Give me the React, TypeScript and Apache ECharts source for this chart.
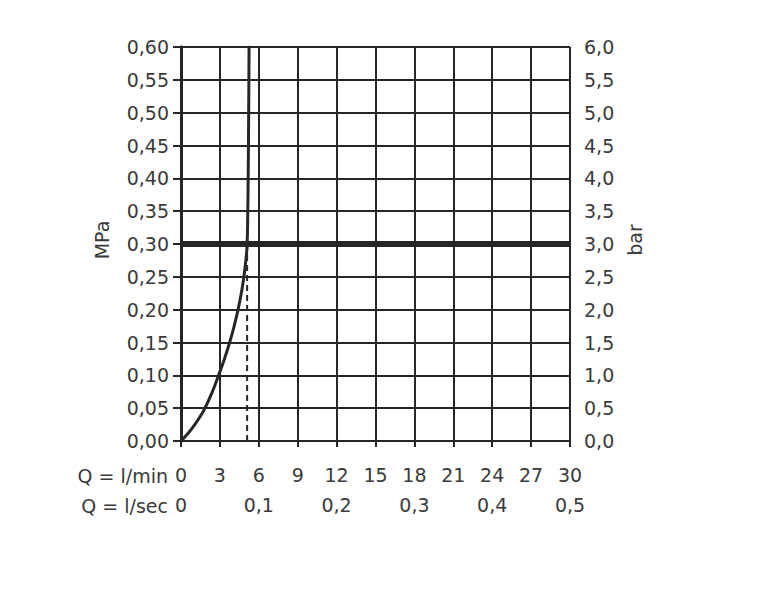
import React, { useEffect, useRef } from "react";
import * as echarts from "echarts";

const flowLpmTicks = { min: 0, max: 30, interval: 3 };
const flowLpsTicks = { min: 0, max: 30, interval: 6 };
const curveFlow = [0, 0.6, 1.1, 1.5, 1.85, 2.42, 2.9, 3.35, 3.75, 4.1, 4.4, 4.65, 4.85, 5.0, 5.1, 5.15, 5.18, 5.22, 5.25];
const curvePressure = [0, 0.013, 0.026, 0.038, 0.05, 0.075, 0.1, 0.125, 0.15, 0.175, 0.2, 0.225, 0.25, 0.275, 0.3, 0.35, 0.4, 0.5, 0.6];
const operatingFlow = 5.1;
const operatingPressure = 0.3;

const FONT = "DejaVu Sans";
const TXT = "#3a3a3a";
const LINE = "#262626";

export default function App() {
  const ref = useRef<HTMLDivElement>(null);
  useEffect(() => {
    document.body.style.margin = "0";
    const chart = echarts.init(ref.current!, null, { renderer: "svg" });
    const labelStyle = { color: TXT, fontFamily: FONT, fontSize: 19 };
    chart.setOption({
      animation: false,
      backgroundColor: "#ffffff",
      grid: { left: 181, right: 193, top: 47, bottom: 159 },
      xAxis: [
        {
          type: "value",
          min: flowLpmTicks.min,
          max: flowLpmTicks.max,
          interval: flowLpmTicks.interval,
          axisLine: { show: true, lineStyle: { color: LINE, width: 2 } },
          axisTick: { show: true, inside: false, length: 6, lineStyle: { color: LINE, width: 2 } },
          axisLabel: { ...labelStyle, margin: 24, formatter: (v: number) => String(Math.round(v)) },
          splitLine: { show: true, lineStyle: { color: LINE, width: 2 } },
        },
        {
          type: "value",
          position: "bottom",
          offset: 30,
          min: flowLpsTicks.min,
          max: flowLpsTicks.max,
          interval: flowLpsTicks.interval,
          axisLine: { show: false },
          axisTick: { show: false },
          splitLine: { show: false },
          axisLabel: {
            ...labelStyle,
            margin: 24,
            formatter: (v: number) => (v === 0 ? "0" : (v / 60).toFixed(1).replace(".", ",")),
          },
        },
      ],
      yAxis: [
        {
          type: "value",
          position: "left",
          min: 0,
          max: 0.6,
          interval: 0.05,
          axisLine: { show: true, lineStyle: { color: LINE, width: 3 } },
          axisTick: { show: true, inside: false, length: 8, lineStyle: { color: LINE, width: 2 } },
          axisLabel: { ...labelStyle, margin: 12, formatter: (v: number) => v.toFixed(2).replace(".", ",") },
          splitLine: { show: true, lineStyle: { color: LINE, width: 2 } },
        },
        {
          type: "value",
          position: "right",
          min: 0,
          max: 6,
          interval: 0.5,
          axisLine: { show: true, lineStyle: { color: LINE, width: 3 } },
          axisTick: { show: true, inside: false, length: 7, lineStyle: { color: LINE, width: 2 } },
          axisLabel: { ...labelStyle, margin: 14, formatter: (v: number) => v.toFixed(1).replace(".", ",") },
          splitLine: { show: false },
        },
      ],
      graphic: [
        { type: "text", x: 102, y: 240, rotation: Math.PI / 2, style: { text: "MPa", fill: TXT, font: `19px "${FONT}"`, align: "center", verticalAlign: "middle" } },
        { type: "text", x: 635, y: 240, rotation: Math.PI / 2, style: { text: "bar", fill: TXT, font: `19px "${FONT}"`, align: "center", verticalAlign: "middle" } },
        { type: "text", x: 168, y: 476, style: { text: "Q = l/min", fill: TXT, font: `19px "${FONT}"`, align: "right", verticalAlign: "middle" } },
        { type: "text", x: 168, y: 506, style: { text: "Q = l/sec", fill: TXT, font: `19px "${FONT}"`, align: "right", verticalAlign: "middle" } },
      ],
      series: [
        {
          type: "line",
          xAxisIndex: 0,
          yAxisIndex: 0,
          data: [[flowLpmTicks.min, operatingPressure], [flowLpmTicks.max, operatingPressure]],
          showSymbol: false,
          lineStyle: { color: LINE, width: 6 },
          z: 3,
        },
        {
          type: "line",
          xAxisIndex: 0,
          yAxisIndex: 0,
          data: [[operatingFlow, 0], [operatingFlow, operatingPressure]],
          showSymbol: false,
          lineStyle: { color: LINE, width: 2, type: [6, 4] },
          z: 3,
        },
        {
          type: "line",
          xAxisIndex: 0,
          yAxisIndex: 0,
          data: curveFlow.map((f, i) => [f, curvePressure[i]]),
          smooth: 0.5,
          showSymbol: false,
          lineStyle: { color: LINE, width: 3, cap: "round", join: "round" },
          z: 4,
        },
      ],
    });
    return () => chart.dispose();
  }, []);
  return <div ref={ref} style={{ width: 763, height: 600 }} />;
}
